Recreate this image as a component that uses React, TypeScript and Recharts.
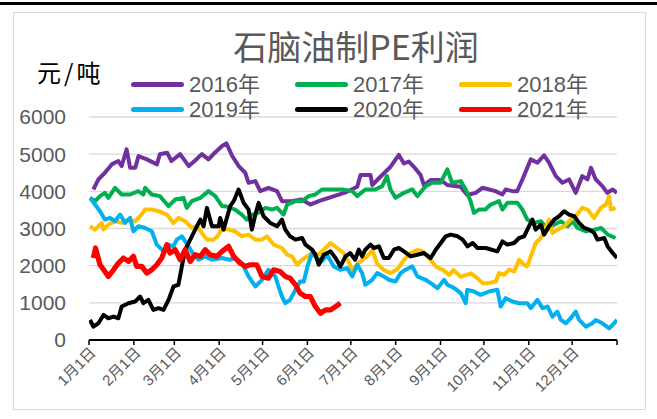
import React from 'react'
import { LineChart, Line, XAxis, YAxis, CartesianGrid, Legend } from 'recharts'

// day-of-year positions of month starts, plus year end
const monthTicks = [0, 31, 59, 90, 120, 151, 181, 212, 243, 273, 304, 334, 365]
const monthLabels = ['1月1日', '2月1日', '3月1日', '4月1日', '5月1日', '6月1日', '7月1日', '8月1日', '9月1日', '10月1日', '11月1日', '12月1日', '']
const yTicks = [0, 1000, 2000, 3000, 4000, 5000, 6000]

// [day of year, 元/吨]
const y2016: [number, number][] = [
  [3, 4050], [6.5, 4320], [11, 4500], [15.7, 4725], [20.3, 4815], [22.6, 4680], [26, 5130], [28.4, 4635],
  [32, 4635], [34.2, 4950], [40, 4860], [47, 4725], [49, 5000], [54, 5040], [57, 4815], [63, 5000],
  [69, 4680], [73, 4815], [78, 5000], [82.6, 4860], [87, 5040], [92, 5220], [95, 5290], [99, 4950],
  [103.5, 4680], [108, 4500], [110.3, 4230], [115, 4275], [118.4, 4005], [124, 4095], [130, 4005], [133.4, 3735],
  [140, 3735], [147, 3780], [153, 3645], [158.8, 3735], [165.7, 3825], [171.5, 3900], [178, 3980], [185.4, 4125],
  [187.7, 4440], [194.6, 4440], [195.8, 4170], [202.7, 4440], [208.4, 4660], [214.2, 4980], [217.7, 4750], [221.1, 4800],
  [224.6, 4660], [229.2, 4440], [231.5, 4170], [236.2, 4305], [243.1, 4305], [247.7, 4170], [256.9, 4125], [261.5, 3900],
  [267.3, 3960], [272, 4095], [281, 4005], [285.8, 3915], [288, 4050], [292.7, 4005], [296, 4005], [299.6, 4320],
  [305.4, 4860], [310, 4770], [314.6, 4970], [318, 4770], [322.7, 4410], [327.3, 4230], [331.9, 4320], [336.5, 3960],
  [341, 4410], [344.6, 4320], [347, 4635], [350.3, 4320], [354.9, 4140], [358.3, 3960], [362, 4050], [365, 3960],
]

const y2017: [number, number][] = [
  [0.7, 3825], [4.2, 3735], [7.6, 3870], [11, 3960], [13.4, 3825], [18, 4095], [22.6, 3915], [28.4, 3915],
  [34, 4005], [37.6, 3915], [38.8, 4095], [43.4, 3915], [49, 3870], [55, 3600], [59.6, 3780], [65.3, 3825],
  [67.6, 3555], [71, 3735], [77, 3825], [82.6, 4005], [87.3, 3870], [92, 3600], [94, 3600], [101, 3510],
  [105.6, 3375], [109, 3240], [112.6, 3375], [117, 3420], [122, 3555], [126.5, 3510], [130, 3555], [134.5, 3375],
  [137, 3645], [142.7, 3735], [147.3, 3735], [151.9, 3870], [156.5, 3915], [161, 4050], [168, 4050], [175, 4050],
  [182, 4005], [185.4, 3870], [191, 4050], [198, 4050], [202.7, 4140], [206, 4410], [208.4, 4050], [211.9, 3825],
  [217.7, 3960], [223.5, 4050], [227, 3870], [232.7, 4140], [237.3, 4230], [243, 4230], [247.7, 4590], [251, 4230],
  [257, 4275], [260.4, 4050], [263.8, 3735], [266.1, 3420], [269.6, 3510], [274, 3510], [277.7, 3645], [283.5, 3735],
  [285.8, 3510], [289.2, 3690], [296.2, 3690], [299.6, 3510], [303, 3240], [307.7, 3150], [312.4, 3195], [317, 2970],
  [321.6, 3105], [326.3, 3195], [330.9, 3060], [334.3, 3195], [337.8, 3015], [343.6, 2925], [349.4, 2970], [354, 3015],
  [358.6, 2835], [364, 2745],
]

const y2018: [number, number][] = [
  [0.7, 3060], [4.2, 2970], [8.8, 3150], [10, 2970], [13.4, 3105], [18, 3195], [22.6, 3150], [27.3, 3240],
  [31.9, 3195], [35.3, 3330], [38.8, 3510], [43.4, 3510], [48, 3465], [53.8, 3375], [58.4, 3150], [61.8, 3285],
  [66.5, 3195], [71, 3015], [74.6, 3060], [78, 2880], [81.5, 2700], [86, 2700], [89, 2800], [92, 3000],
  [96.5, 2970], [101, 2925], [105.7, 2790], [110.3, 2835], [115, 2700], [119.6, 2700], [123, 2790], [127.7, 2565],
  [133.4, 2475], [137, 2295], [140.3, 2250], [143.8, 2025], [147.3, 2160], [150.8, 2250], [154.2, 2340], [158.8, 2295],
  [162.3, 2430], [167, 2610], [171.5, 2475], [176, 2340], [179.6, 2100], [182, 1880], [186, 2060], [192, 2240],
  [196, 2420], [199, 2060], [204, 1880], [208.4, 1800], [213, 1900], [217.7, 2150], [222, 2330], [227, 2420],
  [230.5, 2385], [234, 2240], [240, 1970], [245, 1880], [249, 1750], [252, 1880], [257, 1700], [264, 1795],
  [268.4, 1665], [271.9, 1530], [276, 1530], [281.2, 1575], [283.5, 1800], [287, 1755], [290.4, 1890], [293.9, 1845],
  [297.3, 2160], [300.8, 2025], [303, 1980], [305.4, 2250], [308.8, 2610], [312.3, 2745], [314.6, 2925], [318, 3240],
  [320.4, 2880], [323.8, 2970], [328.4, 3060], [333, 3240], [336.5, 3330], [341, 3555], [344.6, 3510], [349.2, 3285],
  [353.8, 3555], [357.3, 3645], [359.6, 3870], [360.8, 3510], [364, 3555],
]

const y2019: [number, number][] = [
  [0.7, 3825], [4.2, 3645], [7.6, 3465], [11, 3240], [14.5, 3285], [18, 3195], [21.5, 3375], [25, 3150],
  [28.4, 3285], [30.7, 2925], [34.2, 3060], [38.8, 3015], [43.4, 2925], [46.9, 2565], [51.5, 2385], [55, 2565],
  [58.4, 2520], [60.7, 2700], [64.2, 2790], [68.8, 2520], [72.3, 2295], [75.7, 2160], [80.3, 2250], [85, 2160],
  [92, 2205], [97, 2160], [101, 2200], [105.7, 2070], [110.3, 1710], [115, 1440], [119.6, 1620], [124, 1890],
  [128.8, 1710], [131, 1440], [133.4, 1170], [135.7, 990], [139, 1080], [142.7, 1350], [146, 1575], [148.5, 1575],
  [151, 1980], [154.2, 2340], [157.6, 2205], [161, 2115], [164.6, 2295], [169.2, 1980], [173.8, 1890], [178.4, 1935],
  [182, 1710], [185.4, 2025], [188.8, 1800], [191, 1485], [195.8, 1620], [199.2, 1800], [203.8, 1710], [207.3, 1620],
  [211.9, 1575], [215.4, 1800], [218.8, 1890], [223.5, 1980], [227, 1710], [232.7, 1620], [236.2, 1530], [240.9, 1395],
  [245.5, 1620], [247.8, 1485], [252.5, 1395], [257, 1260], [260.4, 990], [261.5, 1350], [266.1, 1305], [270.7, 1215],
  [276.5, 1305], [282.3, 1350], [284.6, 900], [288, 1125], [292.7, 1035], [297.3, 990], [303, 990], [305.4, 855],
  [310, 1080], [313.5, 855], [317, 900], [320.4, 630], [323.8, 765], [326.2, 540], [329.6, 450], [333, 585],
  [336.5, 765], [338.8, 540], [343.4, 360], [348, 450], [350.3, 540], [354.9, 450], [359.6, 315], [363, 450],
  [365, 540],
]

const y2020: [number, number][] = [
  [0.7, 540], [3, 360], [6.5, 450], [10, 675], [13.4, 585], [17, 630], [20.3, 585], [22.6, 900],
  [27.3, 990], [31.9, 1035], [35.3, 1170], [37.6, 990], [41, 1080], [44.5, 810], [48, 855], [51.5, 810],
  [55, 1080], [58.4, 1440], [61.8, 1485], [64.2, 1980], [66.5, 2430], [70, 2700], [73.4, 2970], [77, 3240],
  [79.2, 3060], [81.5, 3555], [85, 3060], [89.6, 3060], [90.7, 3285], [93, 2970], [97.6, 3600], [100, 3735],
  [103.4, 4050], [106.9, 3690], [110.3, 3510], [112.6, 2970], [115, 3375], [117.3, 3690], [120.7, 3330], [125.3, 3150],
  [130, 3060], [133.4, 3240], [135.7, 2970], [139, 2790], [142.7, 2700], [147.3, 2745], [149.6, 2565], [154.2, 2430],
  [156.5, 2295], [158.8, 2025], [162.3, 2295], [167, 2385], [170.4, 2205], [173.8, 1980], [177.3, 2250], [180.5, 2340],
  [184, 2160], [186.5, 2430], [188.8, 2250], [191, 2430], [194.6, 2565], [196.9, 2475], [200.4, 2520], [203.8, 2205],
  [207.3, 2205], [210.8, 2430], [214.2, 2475], [217.7, 2385], [222.4, 2250], [227, 2295], [231.6, 2340], [236.2, 2205],
  [239.7, 2430], [243.2, 2610], [246.6, 2790], [250, 2835], [254.8, 2790], [258.3, 2700], [261.7, 2520], [265.2, 2610],
  [268.6, 2475], [274.3, 2475], [282.3, 2385], [285.8, 2655], [289.2, 2565], [293.9, 2610], [297.3, 2745], [300.8, 2790],
  [303, 2970], [306.5, 3240], [308.8, 2970], [312.3, 3105], [314.6, 2835], [318, 3060], [321.6, 3240], [325, 3330],
  [328.4, 3465], [331.9, 3375], [335.4, 3330], [338.8, 3150], [342.3, 3015], [345.8, 2970], [349.2, 2880], [351.5, 2700],
  [356.2, 2745], [358.5, 2520], [362, 2340], [365, 2205],
]

const y2021: [number, number][] = [
  [3, 2205], [4.5, 2475], [7.6, 2025], [11, 1845], [13.4, 1710], [17, 1890], [20.3, 2070], [23.8, 2205],
  [27.3, 2115], [30.7, 2250], [33, 1980], [36.5, 1980], [40, 1800], [43.4, 1890], [46.9, 2025], [50.3, 2205],
  [53.8, 2565], [56, 2340], [59.6, 2430], [63, 2160], [66.5, 2430], [70, 2115], [73.4, 2295], [77, 2250],
  [80.3, 2430], [83.7, 2295], [88.4, 2250], [92, 2385], [96.5, 2520], [100, 2250], [104.5, 2070], [108, 1980],
  [111.5, 2025], [116, 2025], [119.6, 1710], [124, 1665], [127.7, 1890], [132, 1845], [135.7, 1710], [139, 1665],
  [142.7, 1485], [146, 1260], [149.6, 1170], [153, 1170], [156.5, 900], [160, 720], [163.5, 810], [167, 810],
  [170.4, 900], [173.8, 990],
]

const series = [
  { name: '2016年', color: '#7030A0', width: 4, points: y2016 },
  { name: '2017年', color: '#00B050', width: 4, points: y2017 },
  { name: '2018年', color: '#FFC000', width: 4, points: y2018 },
  { name: '2019年', color: '#00B0F0', width: 4, points: y2019 },
  { name: '2020年', color: '#000000', width: 4, points: y2020 },
  { name: '2021年', color: '#FF0000', width: 5.2, points: y2021 },
]

const FONT = '"Liberation Sans", "Noto Sans CJK SC", sans-serif'

const MonthTick = (props: any) => {
  const { x, y, payload } = props
  const label = monthLabels[monthTicks.indexOf(payload.value)] ?? ''
  if (!label) return null
  return (
    <g transform={`translate(${x + 4},${y + 3})`}>
      <text
        x={0}
        y={0}
        dy="0.35em"
        textAnchor="end"
        transform="rotate(-45)"
        fill="#595959"
        fontSize={15}
        fontFamily={FONT}
      >
        {label}
      </text>
    </g>
  )
}

const renderLegend = (props: any) => {
  const items = props.payload ?? []
  return (
    <div style={{ display: 'grid', gridTemplateColumns: 'repeat(3, 164px)', fontFamily: FONT }}>
      {items.map((it: any) => (
        <div key={it.value} style={{ display: 'flex', alignItems: 'center', height: 25 }}>
          <span
            style={{
              display: 'inline-block',
              width: 53,
              height: 5,
              borderRadius: 3,
              background: it.color,
              marginRight: 5,
            }}
          />
          <span style={{ fontSize: 22, color: '#595959', lineHeight: 1 }}>{it.value}</span>
        </div>
      ))}
    </div>
  )
}

export default function App() {
  return (
    <div style={{ position: 'absolute', left: 0, top: 0, width: 657, height: 419, background: '#fff', overflow: 'hidden' }}>
      <div style={{ position: 'absolute', left: 0, top: 2, width: 657, height: 3, background: '#000' }} />
      <div
        style={{
          position: 'absolute',
          left: 13,
          top: 12,
          width: 633,
          height: 398,
          border: '1.5px solid #D9D9D9',
          boxSizing: 'border-box',
        }}
      />
      <div
        style={{
          position: 'absolute',
          left: 0,
          width: 712,
          top: 26,
          textAlign: 'center',
          fontSize: 34,
          lineHeight: '40px',
          color: '#595959',
          fontFamily: '"Noto Sans CJK SC", sans-serif',
        }}
      >
        石脑油制PE利润
      </div>
      <div
        style={{
          position: 'absolute',
          left: 37,
          top: 58,
          fontSize: 24,
          lineHeight: '28px',
          letterSpacing: 3,
          color: '#000',
          fontFamily: '"Noto Sans CJK SC", sans-serif',
        }}
      >
        元/吨
      </div>
      <div style={{ position: 'absolute', left: 0, top: 0 }}>
        <LineChart width={657} height={419} margin={{ top: 117, right: 40, bottom: 0, left: 0 }}>
          <CartesianGrid vertical={false} stroke="#D9D9D9" strokeWidth={1.3} />
          <XAxis
            type="number"
            dataKey="d"
            domain={[0, 365]}
            ticks={monthTicks}
            interval={0}
            height={79}
            allowDataOverflow
            axisLine={{ stroke: '#000', strokeWidth: 2 }}
            tickLine={{ stroke: '#000', strokeWidth: 1.5 }}
            tickSize={5}
            tick={<MonthTick />}
          />
          <YAxis
            domain={[0, 6000]}
            ticks={yTicks}
            interval={0}
            width={89}
            axisLine={false}
            tickLine={false}
            tickSize={0}
            tickMargin={23}
            tick={{ fontSize: 21, fill: '#595959', fontFamily: FONT }}
          />
          <Legend
            layout="horizontal"
            verticalAlign="middle"
            align="center"
            wrapperStyle={{ top: 72, left: 131, width: 500 }}
            content={renderLegend}
          />
          {series.map((s) => (
            <Line
              key={s.name}
              name={s.name}
              data={s.points.map(([d, v]) => ({ d, v }))}
              dataKey="v"
              type="linear"
              stroke={s.color}
              strokeWidth={s.width}
              strokeLinejoin="round"
              dot={false}
              activeDot={false}
              isAnimationActive={false}
            />
          ))}
        </LineChart>
      </div>
    </div>
  )
}
